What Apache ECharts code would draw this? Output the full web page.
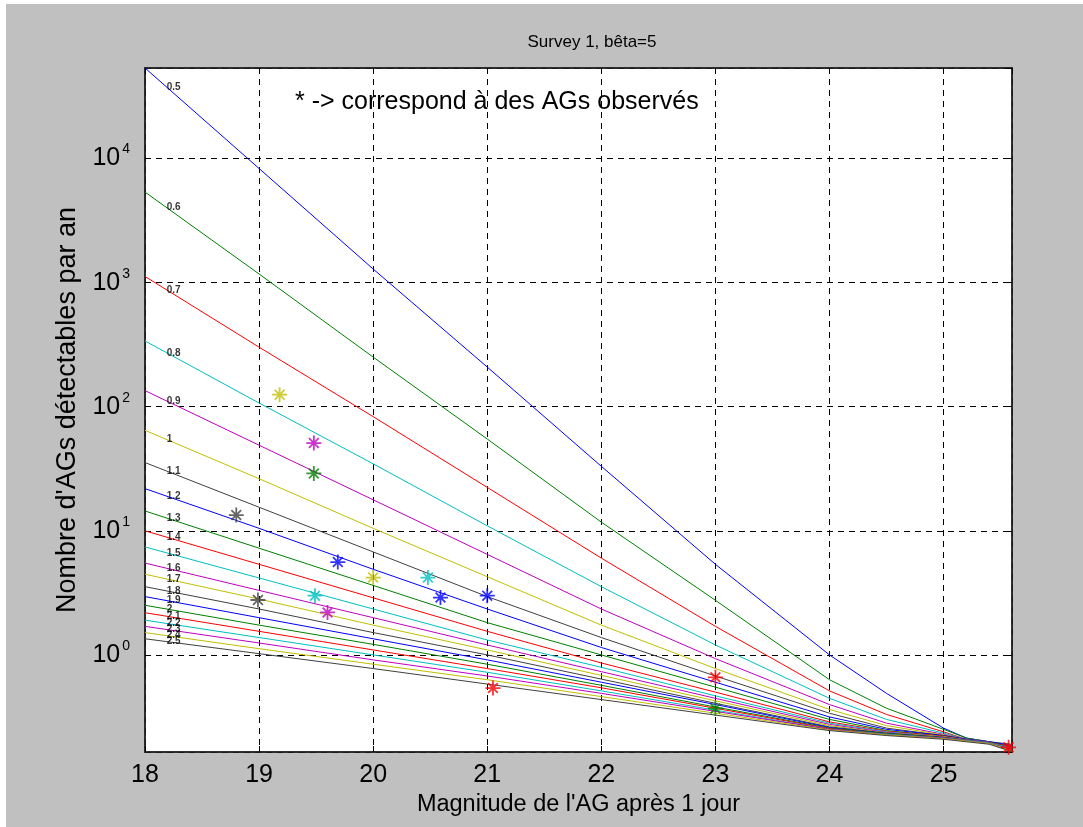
<!DOCTYPE html>
<html><head><meta charset="utf-8">
<script src="https://cdn.jsdelivr.net/npm/echarts@6/dist/echarts.min.js"></script>
<style>html,body{margin:0;padding:0;background:#c0c0c0;} #c{width:1083px;height:827px;}</style>
</head><body><div id="c"></div>
<script>
// Magnitude (x) at which each curve was read
const magnitudes = [18, 19, 20, 21, 22, 23, 24, 24.5, 25, 25.2, 25.4, 25.6];
// curve labels (written at the left of each curve)
const curveLabels = ['0.5','0.6','0.7','0.8','0.9','1','1.1','1.2','1.3','1.4','1.5','1.6','1.7','1.8','1.9','2','2.1','2.2','2.3','2.4','2.5'];
// log10(number of detectable AGs per year), per curve
const c05 = [4.73, 3.92, 3.11, 2.32, 1.52, 0.73, 0.00, -0.31, -0.59, -0.67, -0.70, -0.78];
const c06 = [3.73, 3.07, 2.40, 1.74, 1.07, 0.44, -0.20, -0.43, -0.60, -0.67, -0.70, -0.77];
const c07 = [3.05, 2.48, 1.92, 1.35, 0.78, 0.23, -0.29, -0.48, -0.62, -0.68, -0.70, -0.76];
const c08 = [2.53, 2.03, 1.54, 1.04, 0.55, 0.08, -0.35, -0.52, -0.63, -0.68, -0.70, -0.75];
const c09 = [2.13, 1.69, 1.25, 0.81, 0.37, -0.03, -0.40, -0.55, -0.64, -0.68, -0.70, -0.74];
const c10 = [1.81, 1.42, 1.02, 0.63, 0.24, -0.11, -0.44, -0.57, -0.645, -0.68, -0.70, -0.73];
const c11 = [1.55, 1.19, 0.83, 0.47, 0.14, -0.17, -0.47, -0.59, -0.65, -0.68, -0.70, -0.72];
const c12 = [1.34, 1.02, 0.69, 0.37, 0.06, -0.22, -0.50, -0.60, -0.65, -0.68, -0.70, -0.73];
const c13 = [1.16, 0.86, 0.56, 0.26, 0.00, -0.26, -0.52, -0.61, -0.655, -0.685, -0.705, -0.74];
const c14 = [1.00, 0.73, 0.46, 0.19, -0.065, -0.30, -0.54, -0.615, -0.655, -0.685, -0.705, -0.75];
const c15 = [0.87, 0.62, 0.37, 0.12, -0.10, -0.33, -0.55, -0.62, -0.66, -0.685, -0.705, -0.76];
const c16 = [0.74, 0.52, 0.30, 0.08, -0.135, -0.35, -0.56, -0.625, -0.66, -0.685, -0.705, -0.77];
const c17 = [0.65, 0.45, 0.24, 0.04, -0.165, -0.37, -0.57, -0.63, -0.66, -0.69, -0.71, -0.78];
const c18 = [0.55, 0.37, 0.18, 0.00, -0.195, -0.39, -0.58, -0.63, -0.665, -0.69, -0.71, -0.77];
const c19 = [0.47, 0.30, 0.13, -0.04, -0.22, -0.40, -0.585, -0.635, -0.665, -0.69, -0.71, -0.76];
const c20 = [0.40, 0.24, 0.085, -0.075, -0.245, -0.42, -0.59, -0.635, -0.665, -0.69, -0.71, -0.75];
const c21 = [0.34, 0.19, 0.04, -0.11, -0.265, -0.43, -0.595, -0.64, -0.67, -0.69, -0.71, -0.74];
const c22 = [0.28, 0.14, 0.00, -0.14, -0.29, -0.445, -0.60, -0.64, -0.67, -0.69, -0.71, -0.75];
const c23 = [0.23, 0.096, -0.04, -0.17, -0.31, -0.455, -0.60, -0.645, -0.67, -0.695, -0.715, -0.76];
const c24 = [0.18, 0.05, -0.075, -0.20, -0.336, -0.47, -0.605, -0.645, -0.675, -0.695, -0.715, -0.77];
const c25 = [0.13, 0.01, -0.11, -0.235, -0.36, -0.485, -0.61, -0.65, -0.68, -0.70, -0.72, -0.78];
const curves = [c05,c06,c07,c08,c09,c10,c11,c12,c13,c14,c15,c16,c17,c18,c19,c20,c21,c22,c23,c24,c25];

// observed AGs (the * markers)
const obsMag = [19.18, 19.48, 19.48, 18.8, 19.69, 20.0, 20.48, 20.59, 21.0, 18.99, 19.49, 19.6, 21.05, 23.0, 23.0, 25.57];
const obsN   = [125, 51, 29, 13.4, 5.6, 4.2, 4.2, 2.9, 3.0, 2.77, 3.0, 2.2, 0.54, 0.66, 0.37, 0.18];
const obsColorIdx = [5, 4, 1, 6, 0, 5, 3, 0, 0, 6, 3, 4, 2, 2, 1, 2];

const xTicks = [18, 19, 20, 21, 22, 23, 24, 25];

const matlabColors = ['#0000ff','#008000','#ff0000','#00bfbf','#bf00bf','#bfbf00','#404040'];
const FONT = 'Liberation Sans, Arial, Helvetica, sans-serif';

const series = [];
curves.forEach((c, i) => {
  series.push({
    type: 'line', name: curveLabels[i], symbol: 'none', silent: true,
    lineStyle: { width: 1, color: matlabColors[i % 7] },
    data: magnitudes.map((m, k) => [m, Math.pow(10, c[k])]),
    z: 3
  });
});
// curve labels, placed on each curve a little right of the axis
const labelX = 18.19;
series.push({
  type: 'scatter', symbolSize: 0, silent: true, z: 5,
  data: curves.map((c, i) => ({
    value: [labelX, Math.pow(10, c[0] + (c[1] - c[0]) * (labelX - magnitudes[0]) / (magnitudes[1] - magnitudes[0]))],
    name: curveLabels[i]
  })),
  label: { show: true, position: 'right', distance: 0, formatter: p => p.name,
           fontFamily: FONT, fontSize: 10, fontWeight: 'bold', color: '#000' }
});
// observed markers
const starPath = 'path://M10,0L10,20M0,10L20,10M3.5,3.5L16.5,16.5M3.5,16.5L16.5,3.5';
for (let ci = 0; ci < 7; ci++) {
  const pts = [];
  obsMag.forEach((m, k) => { if (obsColorIdx[k] === ci) pts.push([m, obsN[k]]); });
  if (!pts.length) continue;
  series.push({
    type: 'scatter', symbol: starPath, symbolSize: 15, z: 6, silent: true,
    itemStyle: { color: 'rgba(0,0,0,0)', borderColor: matlabColors[ci], borderWidth: 1.8 },
    data: pts
  });
}

const isPow10 = v => Math.abs(Math.log10(v) - Math.round(Math.log10(v))) < 1e-6;

const chart = echarts.init(document.getElementById('c'), null, { renderer: 'canvas' });
chart.setOption({
  animation: false,
  backgroundColor: '#c0c0c0',
  title: {
    text: 'Survey 1, bêta=5', left: 587, top: 29, textAlign: 'center',
    textStyle: { fontFamily: FONT, fontSize: 17, fontWeight: 'normal', color: '#000' }
  },
  grid: { left: 145, top: 68, right: 71, bottom: 75, show: true, backgroundColor: '#fff',
          borderColor: '#222', borderWidth: 1.5, containLabel: false },
  xAxis: [{
    type: 'value', min: 18, max: 25.6, interval: 1,
    name: "Magnitude de l'AG après 1 jour", nameLocation: 'middle', nameGap: 39,
    nameTextStyle: { fontFamily: FONT, fontSize: 23.5, color: '#000' },
    axisLine: { show: true, onZero: false, lineStyle: { color: '#222', width: 1.5 } },
    axisTick: { show: true, inside: true, length: 6, lineStyle: { color: '#000' } },
    axisLabel: { fontFamily: FONT, fontSize: 25, color: '#000', margin: 11, showMaxLabel: false,
                 formatter: v => (xTicks.indexOf(v) >= 0 ? String(v) : '') },
    splitLine: { show: true, lineStyle: { color: '#000', type: [6, 5], width: 1 } }
  }, {
    type: 'value', min: 18, max: 25.6, interval: 1, position: 'top',
    axisLine: { show: true, lineStyle: { color: '#222', width: 1.5 } },
    axisTick: { show: true, inside: true, length: 6, lineStyle: { color: '#000' } },
    axisLabel: { show: false }, splitLine: { show: false }
  }],
  yAxis: [{
    type: 'log', logBase: 10, min: 0.165, max: 53700,
    name: "Nombre d'AGs détectables par an", nameLocation: 'middle', nameGap: 62, nameRotate: 90,
    nameTextStyle: { fontFamily: FONT, fontSize: 27, color: '#000' },
    axisLine: { show: true, lineStyle: { color: '#222', width: 1.5 } },
    axisTick: { show: true, inside: true, length: 6, lineStyle: { color: '#000' } },
    axisLabel: {
      fontFamily: FONT, fontSize: 25, color: '#000', margin: 15, showMinLabel: false, showMaxLabel: false,
      formatter: v => {
        if (!isPow10(v)) return '';
        const e = Math.round(Math.log10(v));
        return '{b|10}{s|' + e + '}';
      },
      rich: {
        b: { fontFamily: FONT, fontSize: 25, color: '#000' },
        s: { fontFamily: FONT, fontSize: 14, color: '#000', padding: [0, 0, 18, 2] }
      }
    },
    splitLine: { show: true, lineStyle: { color: '#000', type: [6, 5], width: 1 } }
  }, {
    type: 'log', logBase: 10, min: 0.165, max: 53700, position: 'right',
    axisLine: { show: true, lineStyle: { color: '#222', width: 1.5 } },
    axisTick: { show: true, inside: true, length: 6, lineStyle: { color: '#000' } },
    axisLabel: { show: false }, splitLine: { show: false }
  }],
  graphic: [{
    type: 'rect', left: 0, top: 0, z: 0, shape: { width: 1083, height: 4 }, style: { fill: '#fff' }
  }, {
    type: 'rect', left: 0, top: 0, z: 0, shape: { width: 6, height: 827 }, style: { fill: '#fff' }
  }, {
    type: 'text', left: 295, top: 90, z: 10,
    style: { text: '* -> correspond à des AGs observés', fontFamily: FONT, fontSize: 25, fill: '#000' }
  }],
  series: series
});
</script>
</body></html>
